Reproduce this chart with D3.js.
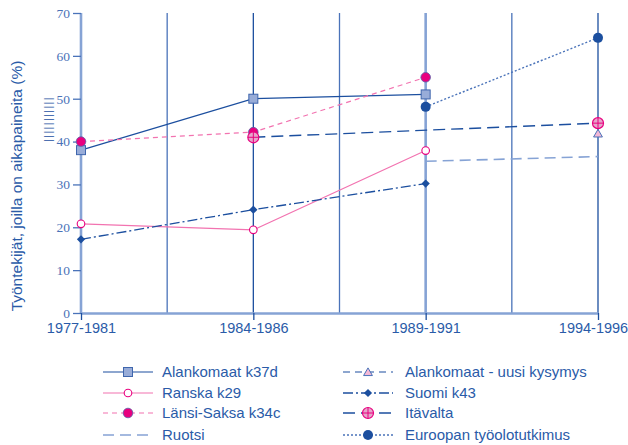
<!DOCTYPE html>
<head>
<meta charset="utf-8">
<style>
body { margin: 0; background: white; }
text { font-family: "Liberation Sans", Arial, sans-serif; }
.tick text { font-family: "Liberation Serif", "Times New Roman", serif; }
</style>
</head>
<body>
<div id="mainDiv" style="width: 628px; height: 445px;"></div>
<script src="https://d3js.org/d3.v7.min.js"></script>
<script>

var width = 628, height = 445;

var periods = ["1977-1981", "1984-1986", "1989-1991", "1994-1996"];
var yTicks = [0, 10, 20, 30, 40, 50, 60, 70];

// values per period, null = no data
var alankomaat   = [38, 50, 51, null];
var ranska       = [20.8, 19.4, 37.9, null];
var lansiSaksa   = [40, 42.2, 55, null];
var ruotsi       = [null, null, 35.4, 36.5];
var alankUusi    = [null, null, null, 41.9];
var suomi        = [17.2, 24.1, 30.2, null];
var itavalta     = [null, 41, null, 44.3];
var euroopan     = [null, null, 48.1, 64.2];

var dark = "#1c4f9f", mid = "#4a73b9", light = "#86a3d5", txt = "#2a5ba8";
var pink = "#f273b0", magenta = "#e8007f";

var series = [
  {name: "Alankomaat k37d", v: alankomaat, color: dark, dash: null, w: 1.2, marker: "square"},
  {name: "Ranska k29", v: ranska, color: pink, dash: null, w: 1.2, marker: "open"},
  {name: "Länsi-Saksa k34c", v: lansiSaksa, color: pink, dash: "5,4", w: 1.2, marker: "dot"},
  {name: "Ruotsi", v: ruotsi, color: light, dash: "11,6", w: 1.6, marker: null},
  {name: "Alankomaat - uusi kysymys", v: alankUusi, color: dark, dash: "7,5", w: 1.2, marker: "triangle"},
  {name: "Suomi k43", v: suomi, color: dark, dash: "10,3,2,3", w: 1.3, marker: "diamond"},
  {name: "Itävalta", v: itavalta, color: dark, dash: "12,6", w: 1.4, marker: "cross"},
  {name: "Euroopan työolotutkimus", v: euroopan, color: mid, dash: "2,2", w: 1.4, marker: "big"}
];

var svg = d3.select("#mainDiv").append("svg")
    .attr("width", width)
    .attr("height", height);

var x = d3.scalePoint().domain(periods).range([81, 598]);
var y = d3.scaleLinear().domain([0, 70]).range([313, 13]);

// vertical grid lines: at periods and between them
var step = x.step();
var grid = [];
periods.forEach(function(p, i) {
  grid.push({x: x(p), kind: (i % 2 == 0) ? "light" : "dark"});
  if (i < periods.length - 1) grid.push({x: x(p) + step / 2, kind: "mid"});
});

svg.append("g").selectAll("line")
  .data(grid)
  .enter().append("line")
    .attr("x1", function(d) { return d.x; })
    .attr("x2", function(d) { return d.x; })
    .attr("y1", y(70))
    .attr("y2", y(0))
    .attr("stroke", function(d) { return d.kind == "light" ? light : (d.kind == "dark" ? dark : mid); })
    .attr("stroke-width", function(d) { return d.kind == "light" ? 2.6 : 1.3; });

// y axis
var yAxis = svg.append("g")
    .attr("transform", "translate(" + x(periods[0]) + ",0)")
    .call(d3.axisLeft(y).tickValues(yTicks).tickSize(8).tickPadding(3));
yAxis.select(".domain").remove();
yAxis.selectAll(".tick line").attr("stroke", mid).attr("stroke-width", 1.3);
yAxis.selectAll(".tick text").attr("fill", "#4a72b8").style("font-size", "13.5px");

// x axis
var xAxis = svg.append("g")
    .attr("transform", "translate(0," + y(0) + ")")
    .call(d3.axisBottom(x).tickSize(7).tickPadding(3).tickSizeOuter(0));
xAxis.select(".domain").attr("stroke", light).attr("stroke-width", 2.4);
xAxis.selectAll(".tick line").attr("stroke", dark).attr("stroke-width", 1.3);
xAxis.selectAll(".tick text").attr("fill", txt)
    .style("font-family", "'Liberation Sans', Arial, sans-serif")
    .style("font-size", "14.5px")
    .attr("dx", function(d, i) { return i == periods.length - 1 ? -5 : 0; });

// y title
svg.append("text")
    .attr("transform", "translate(22,186) rotate(-90)")
    .attr("text-anchor", "middle")
    .attr("fill", txt)
    .style("font-size", "15.5px")
    .text("Työntekijät, joilla on aikapaineita (%)");

svg.append("text")
    .attr("transform", "translate(52,119) rotate(-90)")
    .attr("text-anchor", "middle")
    .attr("fill", dark)
    .style("font-size", "11px")
    .style("letter-spacing", "1.3px")
    .text("|||||||||||");

function drawMarker(g, type, px, py) {
  if (type == "square") {
    g.append("rect").attr("x", px - 4.5).attr("y", py - 4.5).attr("width", 9).attr("height", 9)
      .attr("fill", "#98acd8").attr("stroke", "#3f66ad").attr("stroke-width", 1);
  } else if (type == "open") {
    g.append("circle").attr("cx", px).attr("cy", py).attr("r", 3.8)
      .attr("fill", "white").attr("stroke", magenta).attr("stroke-width", 1.1);
  } else if (type == "dot") {
    g.append("circle").attr("cx", px).attr("cy", py).attr("r", 4.8)
      .attr("fill", magenta).attr("stroke", "#5a5fa8").attr("stroke-width", 0.8);
  } else if (type == "triangle") {
    g.append("path").attr("d", d3.symbol(d3.symbolTriangle, 34)())
      .attr("transform", "translate(" + px + "," + (py + 1) + ")")
      .attr("fill", "#f4b8d6").attr("stroke", mid).attr("stroke-width", 1);
  } else if (type == "diamond") {
    g.append("path").attr("d", d3.symbol(d3.symbolSquare, 34)())
      .attr("transform", "translate(" + px + "," + py + ") rotate(45)")
      .attr("fill", dark);
  } else if (type == "cross") {
    g.append("circle").attr("cx", px).attr("cy", py).attr("r", 5.5)
      .attr("fill", "#e6a5cb").attr("stroke", magenta).attr("stroke-width", 1.2);
    g.append("path").attr("d", "M" + (px - 5.5) + "," + py + "H" + (px + 5.5) + "M" + px + "," + (py - 5.5) + "V" + (py + 5.5))
      .attr("stroke", magenta).attr("stroke-width", 1);
  } else if (type == "big") {
    g.append("circle").attr("cx", px).attr("cy", py).attr("r", 5)
      .attr("fill", dark);
  }
}

var line = d3.line()
    .defined(function(d) { return d.v != null; })
    .x(function(d) { return x(d.p); })
    .y(function(d) { return y(d.v); });

function pts(s) {
  return periods.map(function(p, i) { return {p: p, v: s.v[i]}; });
}

// lines (connect non-null points)
series.forEach(function(s) {
  var data = pts(s).filter(function(d) { return d.v != null; });
  if (data.length < 2) return;
  var path = svg.append("path")
    .datum(data)
    .attr("d", line)
    .attr("fill", "none")
    .attr("stroke", s.color)
    .attr("stroke-width", s.w);
  if (s.dash) path.attr("stroke-dasharray", s.dash);
});

// markers
var mg = svg.append("g");
series.forEach(function(s) {
  if (!s.marker) return;
  pts(s).forEach(function(d) {
    if (d.v != null) drawMarker(mg, s.marker, x(d.p), y(d.v));
  });
});

// legend
var legX = [103, 343], legRows = [372, 393, 413, 435];
var leg = svg.append("g");
series.forEach(function(s, i) {
  var col = i < 4 ? 0 : 1, row = i % 4;
  var lx = legX[col], ly = legRows[row];
  var l = leg.append("line")
    .attr("x1", lx).attr("x2", lx + 50)
    .attr("y1", ly).attr("y2", ly)
    .attr("stroke", s.color).attr("stroke-width", s.w);
  if (s.dash) l.attr("stroke-dasharray", s.dash);
  if (s.marker) drawMarker(leg, s.marker, lx + 25, ly);
  leg.append("text")
    .attr("x", lx + 59 + (col ? 3 : 0))
    .attr("y", ly + 5)
    .attr("fill", txt)
    .style("font-size", "15px")
    .text(s.name);
});

</script>
</body>
</html>
